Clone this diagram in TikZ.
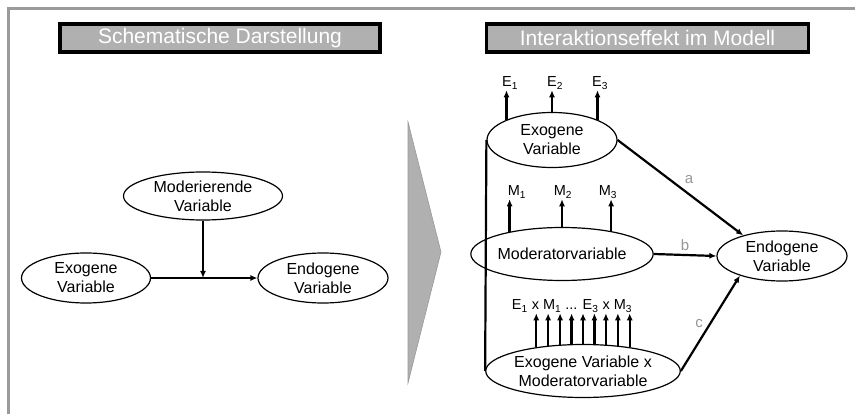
\documentclass[tikz,border=0pt]{standalone}
\usepackage{fontspec}
\setmainfont{Liberation Sans}
\usetikzlibrary{positioning, arrows.meta, shapes.geometric, calc}
\definecolor{framegray}{RGB}{155,155,155}
\definecolor{titlegray}{RGB}{176,176,176}
\definecolor{coefgray}{RGB}{150,150,150}

\begin{document}
\begin{tikzpicture}[x=1pt, y=-1pt, >={Latex[length=7pt,width=6pt]},
  font=\fontsize{16}{19}\selectfont,
  var/.style={draw, ellipse, line width=1.2pt, inner sep=0pt, align=center},
  titlebox/.style={draw=black, line width=3.8pt, fill=titlegray, text=white,
    minimum height=28pt, inner sep=0pt, font=\fontsize{21}{22}\selectfont},
  effect/.style={->, line width=2.2pt},
  ind/.style={->, line width=2.2pt},
  indlabel/.style={inner sep=1pt, font=\fontsize{14.5}{16}\selectfont},
  coef/.style={text=coefgray, font=\fontsize{15}{16}\selectfont}]
  \useasboundingbox (0,0) rectangle (855,414);
  % frame
  \draw[framegray, line width=3pt] (8,414) -- (8,9) -- (855,9);
  % titles
  \node[titlebox, minimum width=320pt] (ttl1) at (220,38) {Schematische Darstellung};
  \node[titlebox, minimum width=322pt] (ttl2) at (647.5,38) {Interaktionseffekt im Modell};
  % left panel
  \node[var, minimum width=159pt, minimum height=48pt] (mod1) at (203,196) {Moderierende\\Variable};
  \node[var, minimum width=129pt, minimum height=50pt] (exo1) at (86,278) {Exogene\\Variable};
  \node[var, minimum width=130pt, minimum height=50pt] (endo1) at (323,278) {Endogene\\Variable};
  \coordinate (join) at (mod1.south |- exo1.east);
  \draw[effect] (exo1) -- (endo1);
  \draw[effect] (mod1) -- (join);
  % big arrow
  \filldraw[fill=titlegray, draw=gray!80, line width=0.6pt] (408,122) -- (441,252) -- (408,383) -- cycle;
  % right panel
  \node[var, minimum width=130pt, minimum height=55pt] (exo2) at (552,140) {Exogene\\Variable};
  \node[var, minimum width=150pt, minimum height=53pt] (mod2) at (562,254) {Moderatorvariable};
  \node[var, minimum width=193pt, minimum height=53pt] (bot) at (583,371) {Exogene Variable x\\Moderatorvariable};
  \node[var, minimum width=130pt, minimum height=50pt] (endo2) at (782,256) {Endogene\\Variable};
  \draw[line width=2.2pt] (exo2.west) -- (bot.west);
  % indicators
  \foreach \n/\a/\x in {1/156/510, 2/90/555, 3/24/600}{
    \node[indlabel] (e\n) at (\x,83) {E\textsubscript{\n}};
    \draw[ind] (exo2.\a) -- (exo2.\a |- e\n.south);
  }
  \foreach \n/\a/\x in {1/157/517, 2/90/563, 3/25/608}{
    \node[indlabel] (m\n) at (\x,192) {M\textsubscript{\n}};
    \draw[ind] (mod2.\a) -- (mod2.\a |- m\n.south);
  }
  \node[indlabel] (prod) at (572,306) {E\textsubscript{1} x M\textsubscript{1} ... E\textsubscript{3} x M\textsubscript{3}};
  \foreach \k in {0,...,8}{
    \pgfmathsetmacro{\dx}{-45.5+11.375*\k}
    \pgfmathtruncatemacro{\ang}{round(atan2(26.5*sqrt(1-(\dx/96.5)^2),\dx))}
    \draw[ind] (bot.\ang) -- (bot.\ang |- prod.south);
  }
  % effects
  \draw[effect] (exo2.east) -- (endo2.152) node[coef, midway, above right=0pt] {a};
  \draw[effect] (mod2.east) -- (endo2.west) node[coef, midway, above] {b};
  \draw[effect] (bot.east) -- (endo2.205) node[coef, midway, left=3pt] {c};
\end{tikzpicture}
\end{document}
